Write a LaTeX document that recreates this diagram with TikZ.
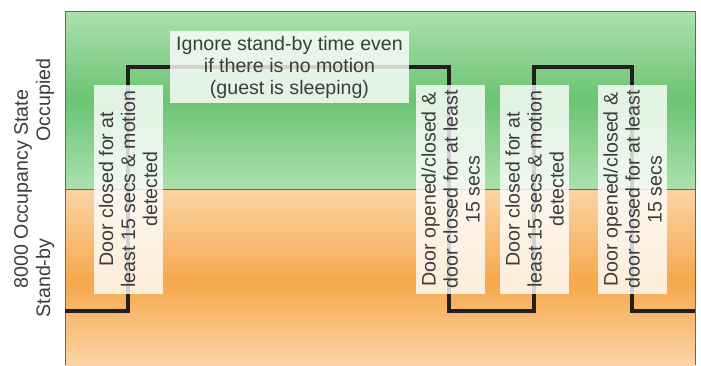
\documentclass[tikz,border=0pt]{standalone}
\usepackage{fontspec}
\setmainfont{Liberation Sans}
\usetikzlibrary{positioning}

\definecolor{greenlight}{HTML}{ADE0AF}
\definecolor{greenmid}{HTML}{6BC473}
\definecolor{orangelight}{HTML}{FBD4A5}
\definecolor{orangemid}{HTML}{F6A84B}
\definecolor{textgray}{HTML}{3C3C3C}
\definecolor{tracedark}{HTML}{231F20}

\begin{document}
\begin{tikzpicture}[x=1pt, y=-1pt,
  note/.style={fill=white, fill opacity=0.8, text opacity=1, text=textgray,
    font=\fontsize{19.6}{22}\selectfont, align=center, inner sep=0pt},
  cond/.style={note, rotate=90, minimum width=209, minimum height=69},
  axislabel/.style={text=textgray, font=\fontsize{19.6}{22}\selectfont, rotate=90, inner sep=0pt},
  trace/.style={draw=tracedark, line width=4pt},
  frame/.style={draw=black!60, line width=0.8pt}
]
  \useasboundingbox (0,0) rectangle (701,365);

  % state bands, light at the edges and strong in the middle
  \shade[top color=greenlight, bottom color=greenmid] (65,11) rectangle (695,100);
  \shade[top color=greenmid, bottom color=greenlight] (65,100) rectangle (695,189);
  \shade[top color=orangelight, bottom color=orangemid] (65,189) rectangle (695,282);
  \shade[top color=orangemid, bottom color=orangelight] (65,282) rectangle (695,365);
  \draw[frame] (65,365) -- (65,11) -- (695,11) -- (695,365);
  \draw[frame] (65,189) -- (695,189);

  % occupancy trace
  \coordinate (start) at (65,311);
  \coordinate (up1) at (128,67);
  \coordinate (down1) at (449,311);
  \coordinate (up2) at (534,67);
  \coordinate (down2) at (632,311);
  \coordinate (stop) at (695,311);
  \draw[trace] (start) -| (up1) -| (down1) -| (up2) -| (down2) -- (stop);

  % labels
  \node[cond] (enter1) at (128,189) {Door closed for at\\least 15 secs \& motion\\detected};
  \node[note, minimum width=239, minimum height=72] (ignore) at (289.5,67)
    {Ignore stand-by time even\\if there is no motion\\(guest is sleeping)};
  \node[cond] (leave1) at (450.5,189.5) {Door opened/closed \&\\door closed for at least\\15 secs};
  \node[cond] (enter2) at (534.5,189) {Door closed for at\\least 15 secs \& motion\\detected};
  \node[cond] (leave2) at (632.5,189.5) {Door opened/closed \&\\door closed for at least\\15 secs};

  \node[axislabel] (ytitle) at (23,189) {8000 Occupancy State};
  \node[axislabel] (occupied) at (45,100) {Occupied};
  \node[axislabel] (standby) at (45,278) {Stand-by};
\end{tikzpicture}
\end{document}
